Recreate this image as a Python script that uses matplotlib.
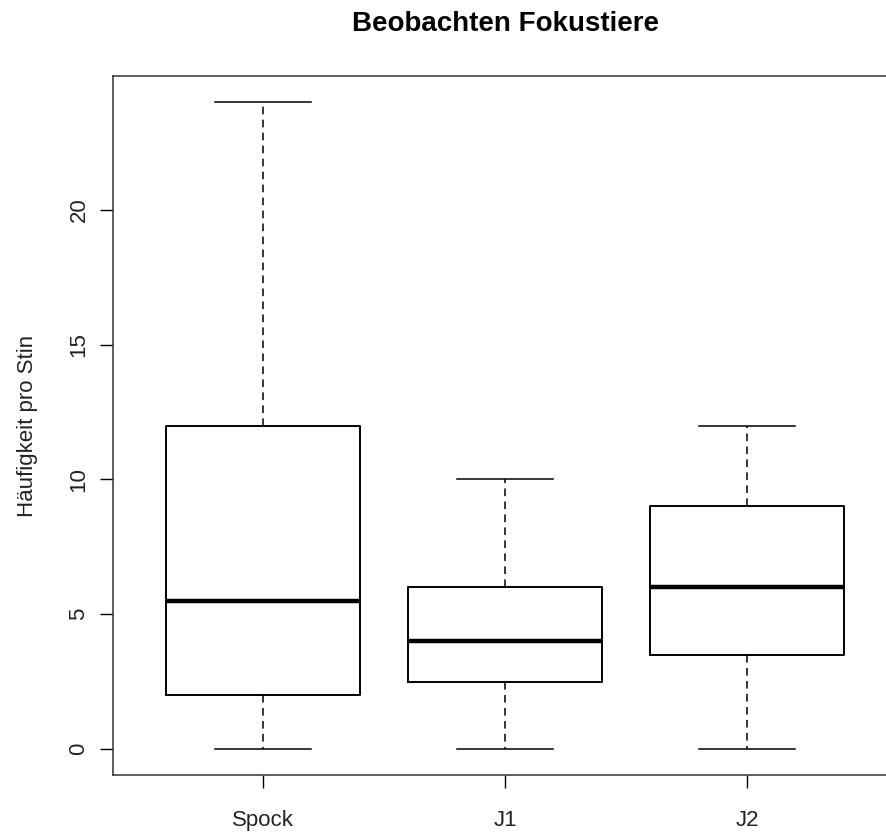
import matplotlib
matplotlib.use("Agg")
import matplotlib.pyplot as plt

plt.rcParams['font.family'] = ['Liberation Sans', 'DejaVu Sans']

# Summary stats per group (whisker low, Q1, median, Q3, whisker high)
groups = ["Spock", "J1", "J2"]
whislo = [0, 0, 0]
q1 = [2, 2.5, 3.5]
med = [5.5, 4, 6]
q3 = [12, 6, 9]
whishi = [24, 10, 12]

stats = []
for i, name in enumerate(groups):
    stats.append({"label": name, "whislo": whislo[i], "q1": q1[i], "med": med[i],
                  "q3": q3[i], "whishi": whishi[i], "fliers": []})

fig = plt.figure(figsize=(8.87, 8.33), dpi=100)
ax = fig.add_axes([0.1274, 0.0696, 0.8839, 0.8391])

ax.bxp(stats, positions=[1, 2, 3], widths=0.8, capwidths=0.4, showfliers=False,
       boxprops=dict(color="black", linewidth=1.4),
       medianprops=dict(color="black", linewidth=3.2, solid_capstyle="butt"),
       whiskerprops=dict(color="black", linewidth=1.1, linestyle=(0, (5, 3.5))),
       capprops=dict(color="black", linewidth=1.1))

ax.set_xlim(0.38, 3.62)
ax.set_ylim(-0.96, 24.96)
ax.set_yticks([0, 5, 10, 15, 20])
ax.set_yticklabels(["0", "5", "10", "15", "20"], rotation=90, va="center")

ax.tick_params(axis="x", length=9.4, width=1, pad=15.5, labelsize=16, labelcolor="#222222")
ax.tick_params(axis="y", length=9.4, width=1, pad=7.5, labelsize=16, labelcolor="#222222")
for s in ax.spines.values():
    s.set_linewidth(1.1)
    s.set_color("#333333")

ax.set_ylabel("Häufigkeit pro Stin", fontsize=16, color="#222222", labelpad=22)
fig.text(0.5694, 1 - 24 / 833, "Beobachten Fokustiere", fontsize=20, fontweight="bold",
         ha="center", va="center")

fig.savefig("out.png", dpi=100)
